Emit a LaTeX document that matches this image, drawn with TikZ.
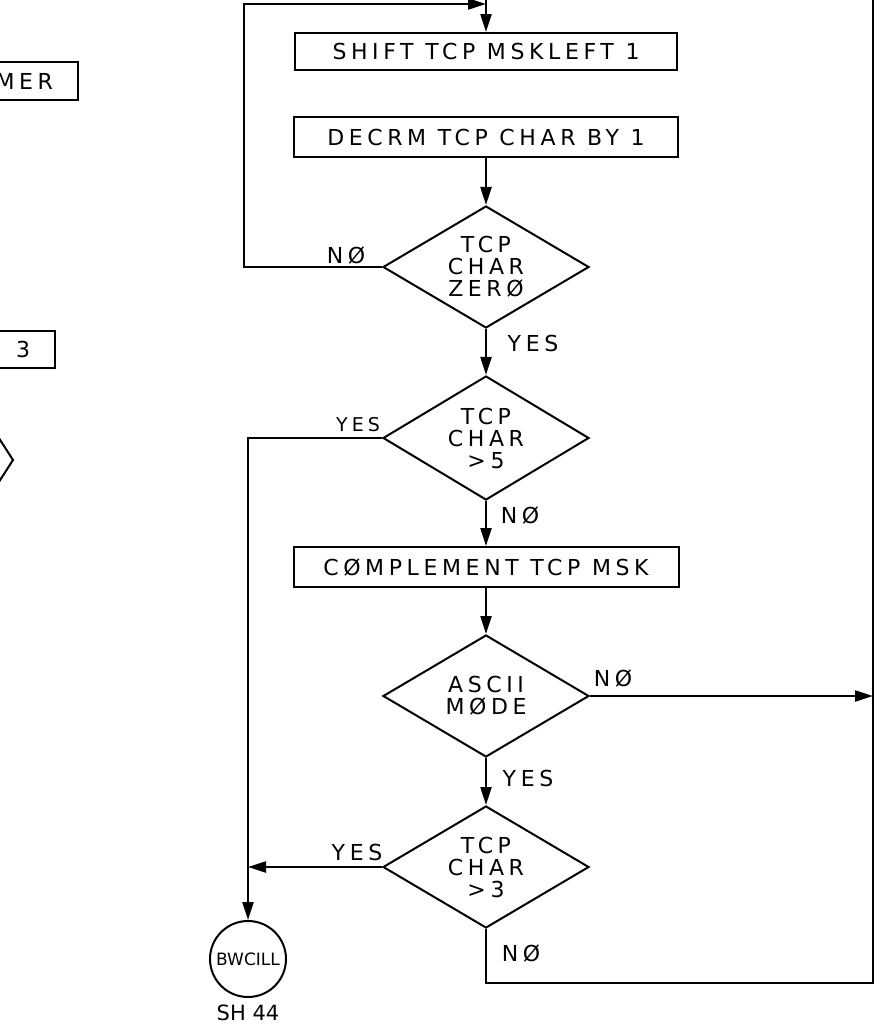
\documentclass[tikz,border=0pt]{standalone}
\usepackage{fontspec}
\newfontfamily\lettering[LetterSpace=21]{DejaVu Sans}
\newfontfamily\plainlet{DejaVu Sans}
\usepackage{tikz}
\usetikzlibrary{shapes.geometric,arrows.meta}

\begin{document}
\begin{tikzpicture}[x=1pt,y=-1pt,
  font=\lettering\fontsize{22}{22}\selectfont,
  line width=2pt,
  flow/.style={line width=2.2pt,-{Triangle[length=18pt,width=11pt]}},
  line/.style={line width=2.2pt},
  procbox/.style={draw,rectangle,minimum height=39pt,inner sep=0pt},
  decision/.style={draw,diamond,aspect=1.69,inner sep=0pt,minimum width=206pt,minimum height=122pt,align=center},
  lbl/.style={inner sep=0pt}]
  \useasboundingbox (0,0) rectangle (882,1036);
  % cut-off shapes at the left edge
  \draw (-20,62) rectangle (78,100);
  \node[lbl,anchor=east] (mer) at (54,81) {MER};
  \draw (-20,331) rectangle (55,368);
  \node[lbl] (three) at (23,349) {3};
  \draw (-5,432) -- (13,460) -- (-5,488);
  % main column
  \node[procbox,minimum width=382pt,minimum height=37pt] (shift) at (486,51.5) {SHIFT TCP MSKLEFT 1};
  \node[procbox,minimum width=384pt,minimum height=40pt] (decrm) at (486,137) {DECRM TCP CHAR BY 1};
  \node[decision] (zero) at (486,267) {TCP\\CHAR\\ZERØ};
  \node[decision,minimum height=124pt] (gt5) at (486,438) {TCP\\CHAR\\>5};
  \node[procbox,minimum width=385pt,minimum height=40pt] (compl) at (486,567) {CØMPLEMENT TCP MSK};
  \node[decision] (ascii) at (486,696) {ASCII\\MØDE};
  \node[decision] (gt3) at (486,867) {TCP\\CHAR\\>3};
  \node[draw,circle,minimum size=76pt,inner sep=0pt,font=\plainlet\fontsize{17}{17}\selectfont] (bw) at (248,959) {BWCILL};
  \node[lbl,font=\plainlet\fontsize{21}{21}\selectfont] (sheet) at (248,1013) {SH 44};
  % connector ends
  \coordinate (topin) at (486,-10);
  \coordinate (merge) at (486,4);
  \coordinate (loopc) at (244,4);
  \coordinate (rtop) at (873,-10);
  \coordinate (rbot) at (873,983);
  \coordinate (rjoin) at (873,696);
  % connectors
  \draw[flow] (topin) -- (shift);
  \draw[flow] (zero.west) -| (loopc) -- (merge);
  \draw[flow] (decrm) -- (zero);
  \draw[flow] (zero) -- (gt5);
  \draw[flow] (gt5.west) -| (bw.north);
  \draw[flow] (gt5) -- (compl);
  \draw[flow] (compl) -- (ascii);
  \draw[flow] (ascii.east) -- (rjoin);
  \draw[flow] (ascii) -- (gt3);
  \draw[flow] (gt3.west) -- (gt3.west -| bw.north);
  \draw[line] (gt3.south) |- (rbot) -- (rtop);
  % branch labels
  \node[lbl] (nozero) at (346,255) {NØ};
  \node[lbl] (yeszero) at (533,343) {YES};
  \node[lbl,font=\lettering\fontsize{19}{20}\selectfont] (yesgt5) at (358,425) {YES};
  \node[lbl] (nogt5) at (520,515) {NØ};
  \node[lbl] (noascii) at (613,678) {NØ};
  \node[lbl] (yesascii) at (528,778) {YES};
  \node[lbl] (yesgt3) at (357,852) {YES};
  \node[lbl] (nogt3) at (521,953) {NØ};
\end{tikzpicture}
\end{document}
